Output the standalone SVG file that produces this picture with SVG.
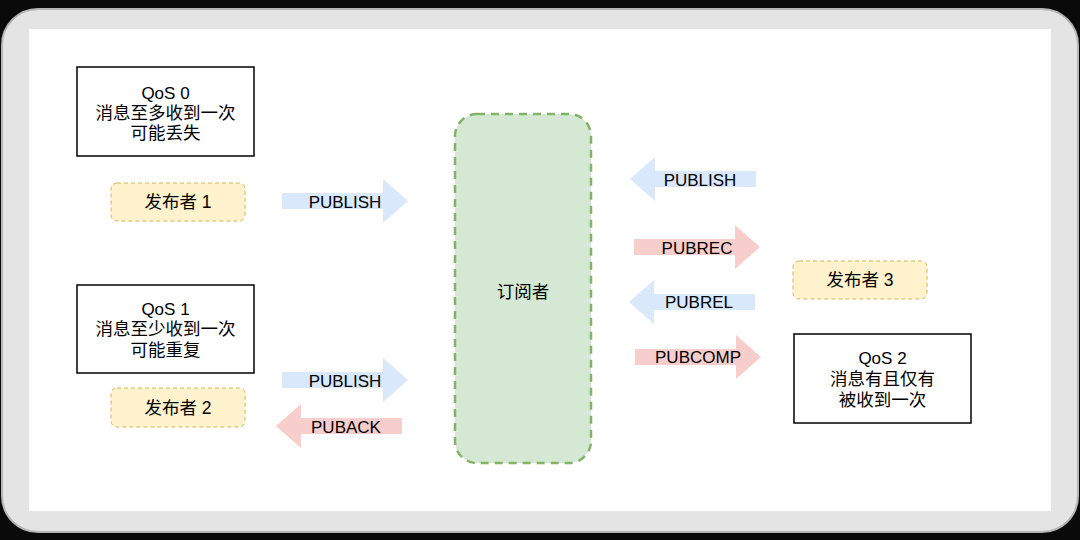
<svg xmlns="http://www.w3.org/2000/svg" width="1080" height="540" viewBox="0 0 1080 540">
<style>
.t{font-family:"Liberation Sans","Noto Sans CJK SC",sans-serif;font-size:17px;fill:#000;text-anchor:middle;dominant-baseline:central}
.c{font-size:17.5px}
.qos{fill:#fff;stroke:#000;stroke-width:1.5}
.pub{fill:#fff2cc;stroke:#d6b656;stroke-dasharray:4 3;stroke-width:1}
.blue{fill:#dae8fc}
.red{fill:#f8cecc}
</style>
<defs>
<path id="ar" d="M0,-8 H101 V-22 L126,0 L101,22 V8 H0 Z"/>
</defs>
<rect x="0" y="0" width="1080" height="540" fill="#0a0a0a"/>
<rect x="2" y="9" width="1076" height="523" rx="36" fill="#e4e4e4" stroke="#b5b5b5" stroke-width="2"/>
<rect x="29" y="29" width="1022" height="482" fill="#fff"/>

<g id="qos0"><rect class="qos" x="77" y="67" width="177" height="89"/>
<text class="t" x="165.5" y="93">QoS 0</text><text class="t c" x="165.5" y="113">消息至多收到一次</text><text class="t c" x="165.5" y="133">可能丢失</text></g>
<g id="pub1"><rect class="pub" x="111" y="183" width="134" height="38" rx="6"/><text class="t c" x="178" y="202">发布者 1</text></g>
<g id="qos1"><rect class="qos" x="77" y="285" width="177" height="88"/>
<text class="t" x="165.5" y="309">QoS 1</text><text class="t c" x="165.5" y="329">消息至少收到一次</text><text class="t c" x="165.5" y="350">可能重复</text></g>
<g id="pub2"><rect class="pub" x="111" y="388" width="134" height="39" rx="6"/><text class="t c" x="178" y="408">发布者 2</text></g>
<g id="sub"><rect x="455" y="114" width="136" height="349" rx="22" fill="#d5e8d4" stroke="#82b366" stroke-width="2.5" stroke-dasharray="8 6"/><text class="t c" x="523" y="292">订阅者</text></g>
<g id="pub3"><rect class="pub" x="793" y="261" width="134" height="38" rx="6"/><text class="t c" x="860" y="280">发布者 3</text></g>
<g id="qos2"><rect class="qos" x="794" y="334" width="177" height="89"/>
<text class="t" x="882.5" y="358">QoS 2</text><text class="t c" x="882.5" y="379">消息有且仅有</text><text class="t c" x="882.5" y="400">被收到一次</text></g>

<g id="connectors">
<use href="#ar" class="blue" transform="translate(282,201)"/><text class="t" x="345" y="202">PUBLISH</text>
<use href="#ar" class="blue" transform="translate(282,380)"/><text class="t" x="345" y="381">PUBLISH</text>
<use href="#ar" class="red" transform="translate(402,426) scale(-1,1)"/><text class="t" x="346" y="427">PUBACK</text>
<use href="#ar" class="blue" transform="translate(756,179) scale(-1,1)"/><text class="t" x="700" y="180">PUBLISH</text>
<use href="#ar" class="red" transform="translate(634,247)"/><text class="t" x="697" y="248">PUBREC</text>
<use href="#ar" class="blue" transform="translate(755,302) scale(-1,1)"/><text class="t" x="699" y="302">PUBREL</text>
<use href="#ar" class="red" transform="translate(635,357)"/><text class="t" x="698" y="357">PUBCOMP</text>
</g>
</svg>
